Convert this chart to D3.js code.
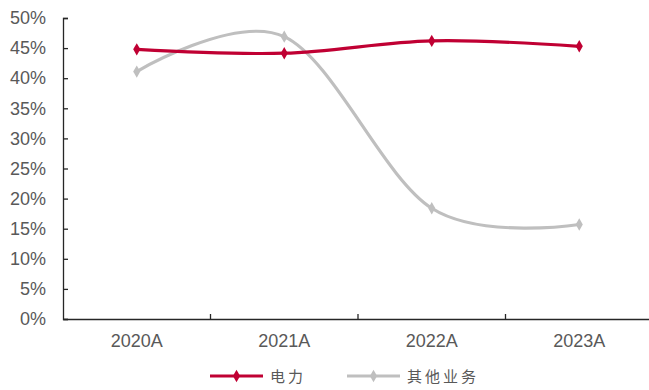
<!DOCTYPE html>
<html><head><meta charset="utf-8">
<script src="https://cdn.jsdelivr.net/npm/d3@7"></script>
<style>body{margin:0;background:#fff}svg{display:block}</style>
</head><body><svg id="c" width="649" height="390"></svg>
<script>
const categories = ["2020A","2021A","2022A","2023A"];
const powerValues = [44.8, 44.15, 46.2, 45.3];
const otherValues = [41.1, 46.9, 18.4, 15.7];
const seriesNames = ["电力","其他业务"];
const yTicks = [0,5,10,15,20,25,30,35,40,45,50];

const svg = d3.select("#c");
const x = d3.scaleBand().domain(categories).range([63, 653]);
const y = d3.scaleLinear().domain([0, 50]).range([319, 18]);
const axisColor = "#262626";
const textColor = "#595959";

// y axis
const ya = svg.append("g").attr("transform","translate(63,0)")
  .call(d3.axisLeft(y).tickValues(yTicks).tickSize(-5).tickPadding(17).tickFormat(d=>d+"%"));
ya.select(".domain").attr("stroke",axisColor).attr("stroke-width",1.3);
ya.selectAll(".tick line").attr("stroke",axisColor).attr("stroke-width",1.3);
ya.selectAll("text").attr("fill",textColor).style("font-family","Arial, 'Liberation Sans', sans-serif").style("font-size","18px");

// x axis
const xa = svg.append("g").attr("transform","translate(0,319)")
  .call(d3.axisBottom(x).tickSize(0).tickPadding(15));
xa.select(".domain").attr("stroke",axisColor).attr("stroke-width",1.3);
xa.selectAll("text").attr("fill",textColor).style("font-family","Arial, 'Liberation Sans', sans-serif").style("font-size","18px");
// category boundary ticks (inside)
svg.append("g").selectAll("line").data(categories.slice(1)).join("line")
  .attr("x1",d=>x(d)).attr("x2",d=>x(d)).attr("y1",319).attr("y2",314)
  .attr("stroke",axisColor).attr("stroke-width",1.3);

const cx = d => x(d) + x.bandwidth()/2;
const line = d3.line().x((d,i)=>cx(categories[i])).y(d=>y(d)).curve(d3.curveCatmullRom.alpha(0));
const diamond = d3.symbol().type(d3.symbolDiamond).size(44);

const series = [
  {name: seriesNames[1], values: otherValues, color: "#BFBFBF"},
  {name: seriesNames[0], values: powerValues, color: "#C00033"}
];
series.forEach(s=>{
  svg.append("path").attr("d", line(s.values)).attr("fill","none")
    .attr("stroke", s.color).attr("stroke-width",3.2).attr("stroke-linecap","round");
  svg.append("g").selectAll("path").data(s.values).join("path")
    .attr("d", diamond).attr("fill", s.color)
    .attr("transform",(d,i)=>`translate(${cx(categories[i])},${y(d)})`);
});

// legend
const legend = [
  {name: seriesNames[0], color: "#C00033", x0: 210},
  {name: seriesNames[1], color: "#BFBFBF", x0: 347}
];
legend.forEach(l=>{
  const g = svg.append("g");
  g.append("line").attr("x1",l.x0).attr("x2",l.x0+53).attr("y1",376).attr("y2",376)
    .attr("stroke",l.color).attr("stroke-width",3.2);
  g.append("path").attr("d",diamond).attr("fill",l.color).attr("transform",`translate(${l.x0+26.5},376)`);
  g.append("text").attr("x",l.x0+60).attr("y",377).attr("dy","0.35em").text(l.name)
    .attr("fill",textColor).style("font-family","'Noto Sans CJK SC', sans-serif")
    .style("font-size","15px").style("letter-spacing","3px");
});
</script></body></html>
